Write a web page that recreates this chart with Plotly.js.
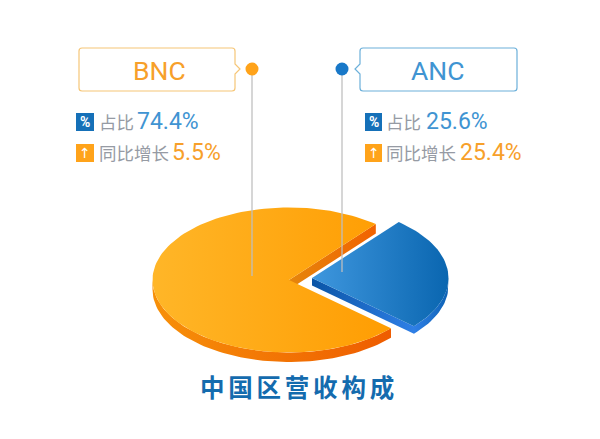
<!DOCTYPE html>
<html><head><meta charset="utf-8">
<script src="https://cdn.plot.ly/plotly-3.0.1.min.js"></script>
<style>
html,body{margin:0;padding:0;background:#fff}
.gtitle{letter-spacing:3.8px}
</style></head><body><div id="chart" style="width:600px;height:439px"></div>
<script>
const categories = ['BNC', 'ANC'];
const shares = [74.4, 25.6];
const growth = [5.5, 25.4];
const shareLabel = '占比';
const growthLabel = '同比增长';
const chartTitle = '中国区营收构成';

// 3D-look pie geometry (plot coordinates)
const RX = 136.5, RY = 72.5, DEPTH = 9.5;
const ancSweep = shares[1] / 100 * 360;
const ancStart = 50.5;                 // top edge of the ANC slice, degrees
const ancEnd = ancStart - ancSweep;
const centers = {BNC: [289, 280], ANC: [312, 278]};

function arc(c, a0, a1, dz) {
  const n = Math.max(2, Math.ceil(Math.abs(a1 - a0) / 2)), xs = [], ys = [];
  for (let i = 0; i <= n; i++) {
    const a = (a0 + (a1 - a0) * i / n) * Math.PI / 180;
    xs.push(c[0] + RX * Math.cos(a));
    ys.push(c[1] - RY * Math.sin(a) + (dz || 0));
  }
  return [xs, ys];
}
function poly(parts, colors, name) {
  const x = [], y = [];
  parts.forEach(p => { x.push(...p[0]); y.push(...p[1]); });
  x.push(x[0]); y.push(y[0]);
  return {type: 'scatter', mode: 'lines', x, y, fill: 'toself', name,
    line: {width: 0}, hoverinfo: 'skip', showlegend: false,
    fillcolor: colors[0],
    fillgradient: {type: 'horizontal', colorscale: [[0, colors[0]], [1, colors[1]]]}};
}
function rev(a) { return [a[0].slice().reverse(), a[1].slice().reverse()]; }
function pt(c, dz) { return [[c[0]], [c[1] + (dz || 0)]]; }
function edge(c, ang, dz) { return arc(c, ang, ang, dz).map(v => v.slice(0, 1)); }

const b = centers.BNC, a = centers.ANC;
const bncStart = ancStart, bncEnd = ancEnd + 360;
const traces = [
  // BNC walls
  poly([edge(b, ancStart, 0), pt(b), pt(b, DEPTH), edge(b, ancStart, DEPTH)], ['#e5860c', '#f26200'], 'BNC inner'),
  poly([arc(b, 180, bncEnd, 0), rev(arc(b, 180, bncEnd, DEPTH))], ['#f79009', '#ee5c00'], 'BNC wall'),
  // BNC top
  poly([pt(b), arc(b, bncStart, bncEnd, 0)], ['#ffb628', '#ff9d02'], 'BNC'),
  // ANC walls
  poly([pt(a), edge(a, ancEnd, 0), edge(a, ancEnd, DEPTH - 2), pt(a, DEPTH - 2)], ['#0a55a6', '#2f7fe6'], 'ANC inner'),
  poly([arc(a, ancEnd, 0, 0), rev(arc(a, ancEnd, 0, DEPTH - 2))], ['#2f7fe6', '#0d62b4'], 'ANC wall'),
  // ANC top
  poly([pt(a), arc(a, ancStart, ancEnd, 0)], ['#3f97de', '#0a66b0'], 'ANC')
];

const LIGHT = 'Roboto, "Noto Sans", sans-serif';
const CJK = '"Noto Sans CJK SC", sans-serif';
const ORANGE = '#f7a02a', BLUE = '#4094d2', GRAY = '#969ba4';
function txt(text, x, y, size, color, anchor, family, weight) {
  return {text, x, y, xref: 'x', yref: 'y', showarrow: false, xanchor: anchor || 'left', yanchor: 'middle',
    borderpad: 0, font: {size, color, family: family || LIGHT, weight: weight || 400}};
}
const col = [
  {name: 159.5, icon: 76, lab: 98, val: 136, val2: 171},
  {name: 437, icon: 365, lab: 385, val: 425, val2: 459}
];
const annotations = [];
categories.forEach((c, i) => {
  const p = col[i];
  annotations.push(txt(c, p.name, 70, 26.5, i ? BLUE : ORANGE, 'center'));
  annotations.push(txt('%', p.icon + 9, 121.5, 14, '#fff', 'center', 'Roboto', 700));
  annotations.push(txt('↑', p.icon + 9, 152.5, 14, '#fff', 'center', '"DejaVu Sans"', 400));
  annotations.push(txt(shareLabel, p.lab, 121, 17.5, GRAY, 'left', CJK, 400));
  annotations.push(txt(shares[i].toFixed(1) + '%', p.val, 121, 23, BLUE));
  annotations.push(txt(growthLabel, p.lab, 152, 17.5, GRAY, 'left', CJK, 400));
  annotations.push(txt(growth[i].toFixed(1) + '%', p.val2, 152, 23, ORANGE));
});

function rect(x0, y0, x1, y1, color) {
  return {type: 'rect', xref: 'x', yref: 'y', x0, y0, x1, y1, fillcolor: color, line: {width: 0}, layer: 'below'};
}
function vline(x, y0, y1) {
  return {type: 'line', xref: 'x', yref: 'y', x0: x, x1: x, y0, y1, line: {color: 'rgba(190,190,190,0.85)', width: 1.5}, layer: 'above'};
}
function dot(x, y, r, color) {
  return {type: 'circle', xref: 'x', yref: 'y', x0: x - r, x1: x + r, y0: y - r, y1: y + r, fillcolor: color, line: {width: 0}, layer: 'above'};
}
const shapes = [
  {type: 'path', xref: 'x', yref: 'y', layer: 'below', fillcolor: 'rgba(0,0,0,0)', line: {color: '#f6c677', width: 1.2},
   path: 'M82,48 H232 Q235,48 235,51 V64 L240,69 L235,74 V88 Q235,91 232,91 H82 Q79,91 79,88 V51 Q79,48 82,48 Z'},
  {type: 'path', xref: 'x', yref: 'y', layer: 'below', fillcolor: 'rgba(0,0,0,0)', line: {color: '#6cb0da', width: 1.2},
   path: 'M363,48 H514 Q517,48 517,51 V88 Q517,91 514,91 H363 Q360,91 360,88 V74 L355,69 L360,64 V51 Q360,48 363,48 Z'},
  rect(76, 113, 94, 131, '#1570b8'), rect(76, 144, 94, 162, '#ffa31a'),
  rect(365, 113, 382, 131, '#1570b8'), rect(365, 144, 382, 162, '#ffa31a'),
  vline(252, 69, 276), vline(342, 69, 272),
  dot(252, 69, 6.5, '#ffa31a'), dot(342, 69, 6.5, '#1878c8')
];

Plotly.newPlot('chart', traces, {
  width: 600, height: 439, autosize: false,
  margin: {l: 0, r: 0, t: 0, b: 0},
  paper_bgcolor: '#fff', plot_bgcolor: '#fff', showlegend: false,
  xaxis: {range: [0, 600], visible: false, fixedrange: true},
  yaxis: {range: [439, 0], visible: false, fixedrange: true},
  title: {text: chartTitle, x: 0.4983, xanchor: 'center', xref: 'paper', y: 0.116, yref: 'container', yanchor: 'middle',
          font: {family: CJK, size: 24.5, weight: 700, color: '#146bae'}},
  annotations, shapes
}, {displayModeBar: false, staticPlot: true});
</script></body></html>
